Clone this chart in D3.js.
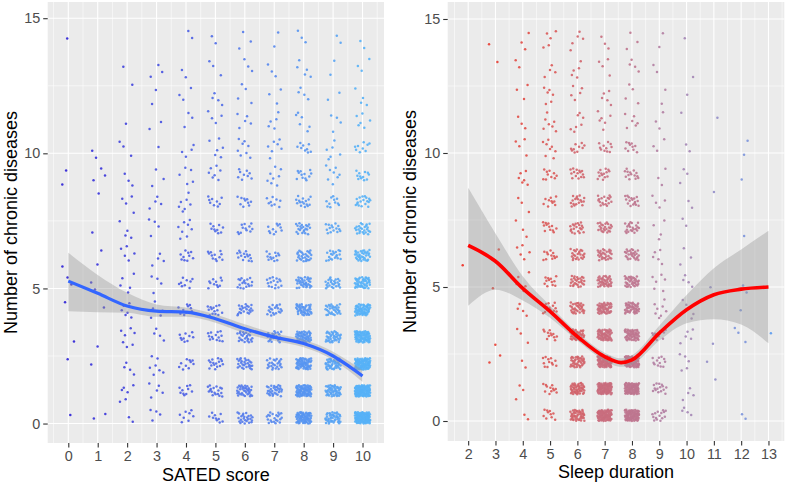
<!DOCTYPE html>
<html><head><meta charset="utf-8">
<script src="https://cdn.jsdelivr.net/npm/d3@7"></script>
<style>
body{margin:0;background:#fff;}
svg text{font-family:"Liberation Sans",Arial,Helvetica,sans-serif;}
</style></head>
<body><svg id="c" width="785" height="485"></svg>
<script>
// ---------------- data ----------------
const diseaseLevels = [0,1,2,3,4,5,6,7,8,9,10,11,12,13,14];
const yTicks = [0,5,10,15];
const yMinor = [2.5,7.5,12.5];

const satedScores = [0,1,2,3,4,5,6,7,8,9,10];
// respondents per SATED score (rows) and number of chronic diseases (columns, 0..14)
const satedCounts = [
  [1,0,1,1,1,2,1,0,0,2,0,0,0,0,1],
  [2,0,1,1,1,2,2,1,1,3,2,0,0,0,0],
  [2,6,4,7,6,5,5,4,4,3,3,1,1,1,0],
  [4,5,7,4,5,4,4,4,4,3,1,2,2,3,0],
  [8,10,10,10,10,9,10,8,7,5,4,3,3,2,2],
  [10,18,16,14,14,11,12,10,9,7,6,4,4,3,2],
  [25,35,28,25,22,18,15,12,10,9,8,5,4,3,3],
  [22,32,25,22,20,16,13,11,9,8,7,5,3,3,2],
  [70,75,62,52,45,35,28,22,16,12,9,6,4,5,3],
  [45,50,45,38,32,25,20,15,11,8,6,4,2,2,2],
  [110,110,95,75,60,45,35,25,18,12,9,6,4,3,2]
];
const satedSmoothX  = [0,1,2,3,4,5,6,7,8,9,9.5,10];
const satedSmoothY  = [5.27,4.82,4.35,4.16,4.12,3.88,3.51,3.2,2.96,2.5,2.15,1.76];
const satedSmoothLo = [4.16,4.12,4.1,3.95,3.95,3.73,3.34,3.06,2.82,2.35,1.98,1.54];
const satedSmoothHi = [6.32,5.5,4.84,4.41,4.29,4.04,3.67,3.34,3.1,2.66,2.33,1.97];
const satedTicks = [0,1,2,3,4,5,6,7,8,9,10];

const sleepHours = [2,3,4,5,6,7,8,9,10,11,12,13];
const sleepCounts = [
  [0,0,0,0,0,0,1,0,0,0,0,0,0,0,0],
  [0,0,2,1,0,1,1,0,0,0,0,0,0,1,1],
  [2,3,2,3,4,5,5,3,3,6,4,3,3,2,3],
  [10,12,12,12,14,12,12,12,10,10,8,7,6,4,5],
  [45,50,40,34,32,27,24,20,18,15,10,7,5,5,5],
  [85,90,75,60,50,40,30,24,18,14,11,6,5,4,3],
  [85,85,70,55,45,36,28,22,17,14,10,6,4,4,3],
  [15,15,12,10,8,6,5,4,4,3,3,3,2,2,2],
  [4,4,5,5,5,4,3,2,2,3,2,1,1,1,1],
  [0,1,1,1,0,1,0,0,1,0,0,1,0,0,0],
  [2,0,0,3,1,2,0,1,0,1,2,0,0,0,0],
  [0,0,0,1,0,0,0,0,0,0,0,0,0,0,0]
];
const sleepSmoothX  = [2,3,4,5,6,7,7.6,8,9,10,11,12,13];
const sleepSmoothY  = [6.55,5.96,4.95,4.09,3.15,2.4,2.18,2.28,3.28,4.15,4.71,4.92,5.0];
const sleepSmoothLo = [4.3,4.9,4.5,3.85,3.0,2.25,2.02,2.1,3.0,3.65,3.8,3.6,2.9];
const sleepSmoothHi = [8.7,7.0,5.4,4.3,3.3,2.55,2.34,2.45,3.55,4.7,5.7,6.4,7.1];
const sleepTicks = [2,3,4,5,6,7,8,9,10,11,12,13];

// ---------------- drawing ----------------
const svg = d3.select("#c");
const FONT_TICK = 14.4, FONT_TITLE = 18;

function halton(i, b){ let f=1, r=0; while(i>0){ f/=b; r+=f*(i%b); i=Math.floor(i/b);} return r; }
function frac(v){ return v - Math.floor(v); }

function panel(o){
  const g = svg.append("g");
  const x = d3.scaleLinear().domain(o.xDomain).range([o.left, o.right]);
  const y = d3.scaleLinear().domain(o.yDomain).range([o.bottom, o.top]);
  g.append("rect").attr("x",o.left).attr("y",o.top).attr("width",o.right-o.left).attr("height",o.bottom-o.top).attr("fill","#EBEBEB");
  o.xMinor.forEach(v=>g.append("line").attr("x1",x(v)).attr("x2",x(v)).attr("y1",o.top).attr("y2",o.bottom).attr("stroke","#fff").attr("stroke-width",0.55));
  yMinor.forEach(v=>g.append("line").attr("y1",y(v)).attr("y2",y(v)).attr("x1",o.left).attr("x2",o.right).attr("stroke","#fff").attr("stroke-width",0.55));
  o.xTicks.forEach(v=>g.append("line").attr("x1",x(v)).attr("x2",x(v)).attr("y1",o.top).attr("y2",o.bottom).attr("stroke","#fff").attr("stroke-width",1.1));
  yTicks.forEach(v=>g.append("line").attr("y1",y(v)).attr("y2",y(v)).attr("x1",o.left).attr("x2",o.right).attr("stroke","#fff").attr("stroke-width",1.1));
  // jittered points (deterministic low-discrepancy jitter, rotated per cell);
  // sparse cells are spread over a taller jitter band, as in the original
  const pts = [];
  o.cats.forEach((c,ci)=>{
    o.counts[ci].forEach((n,k)=>{
      const a = frac(ci*0.6180339 + k*0.4142136 + 0.13);
      const b = frac(ci*0.7548777 + k*0.5698403 + 0.29);
      const dense = n >= 9;
      const y0 = dense ? 0 : (k === 0 ? 0 : -0.22);
      const span = dense ? 0.42 : (k === 0 ? 0.5 : 0.78);
      for(let i=0;i<n;i++){
        const ux = frac(halton(i+1,2) + a), uy = frac(halton(i+1,3) + b);
        pts.push({x: c + (ux-0.5)*0.52, y: diseaseLevels[k] + y0 + uy*span, c});
      }
    });
  });
  g.append("g").selectAll("circle").data(pts).join("circle")
    .attr("cx",d=>x(d.x)).attr("cy",d=>y(d.y)).attr("r",1.25)
    .attr("fill",d=>o.color(d.c)).attr("fill-opacity",0.9);
  const band = o.sx.map((v,i)=>({x:v, lo:o.slo[i], hi:o.shi[i], m:o.sy[i]}));
  g.append("path").datum(band)
    .attr("d", d3.area().x(d=>x(d.x)).y0(d=>y(d.lo)).y1(d=>y(d.hi)).curve(d3.curveMonotoneX))
    .attr("fill","#999999").attr("fill-opacity",0.4);
  g.append("path").datum(band)
    .attr("d", d3.line().x(d=>x(d.x)).y(d=>y(d.m)).curve(d3.curveMonotoneX))
    .attr("fill","none").attr("stroke",o.lineColor).attr("stroke-width",o.lineWidth);
  const ax = g.append("g").attr("transform",`translate(0,${o.bottom})`)
    .call(d3.axisBottom(x).tickValues(o.xTicks).tickSize(4.5).tickPadding(3).tickFormat(d3.format("d")));
  const ay = g.append("g").attr("transform",`translate(${o.left},0)`)
    .call(d3.axisLeft(y).tickValues(yTicks).tickSize(4.5).tickPadding(3).tickFormat(d3.format("d")));
  [ax,ay].forEach(a=>{
    a.select(".domain").remove();
    a.selectAll(".tick line").attr("stroke","#333333").attr("stroke-width",1.1);
    a.selectAll(".tick text").attr("fill","#4D4D4D").style("font-size",FONT_TICK+"px").style("font-family","Liberation Sans, Arial, sans-serif");
  });
  g.append("text").attr("x",(o.left+o.right)/2).attr("y",o.xTitleY).attr("text-anchor","middle")
    .style("font-size",FONT_TITLE+"px").attr("fill","#000").text(o.xTitle);
  g.append("text").attr("transform",`translate(${o.yTitleX},${(o.top+o.bottom)/2}) rotate(-90)`).attr("text-anchor","middle")
    .style("font-size",FONT_TITLE+"px").attr("fill","#000").text(o.yTitle);
}

panel({
  left:47.7, right:384, top:2, bottom:443,
  xDomain:[-0.7,10.73], yDomain:[-0.72,15.6],
  xTicks:satedTicks, xMinor:[-0.5,0.5,1.5,2.5,3.5,4.5,5.5,6.5,7.5,8.5,9.5,10.5],
  cats:satedScores, counts:satedCounts,
  color: d3.scaleLinear().domain([0,10]).range(["#2b1fd6","#56B1F7"]).interpolate(d3.interpolateLab),
  sx:satedSmoothX, sy:satedSmoothY, slo:satedSmoothLo, shi:satedSmoothHi,
  lineColor:"#3366FF", lineWidth:3.2,
  xTitle:"SATED score", yTitle:"Number of chronic diseases",
  xTitleY:481, yTitleX:17
});
panel({
  left:447.7, right:784.3, top:2, bottom:441,
  xDomain:[1.25,13.58], yDomain:[-0.746,15.634],
  xTicks:sleepTicks, xMinor:[1.5,2.5,3.5,4.5,5.5,6.5,7.5,8.5,9.5,10.5,11.5,12.5,13.5],
  cats:sleepHours, counts:sleepCounts,
  color: d3.scaleLinear().domain([2,13]).range(["#ee2a1f","#5b9bf0"]).interpolate(d3.interpolateLab),
  sx:sleepSmoothX, sy:sleepSmoothY, slo:sleepSmoothLo, shi:sleepSmoothHi,
  lineColor:"#FF0000", lineWidth:3.6,
  xTitle:"Sleep duration", yTitle:"Number of chronic diseases",
  xTitleY:478, yTitleX:416
});
</script></body></html>
